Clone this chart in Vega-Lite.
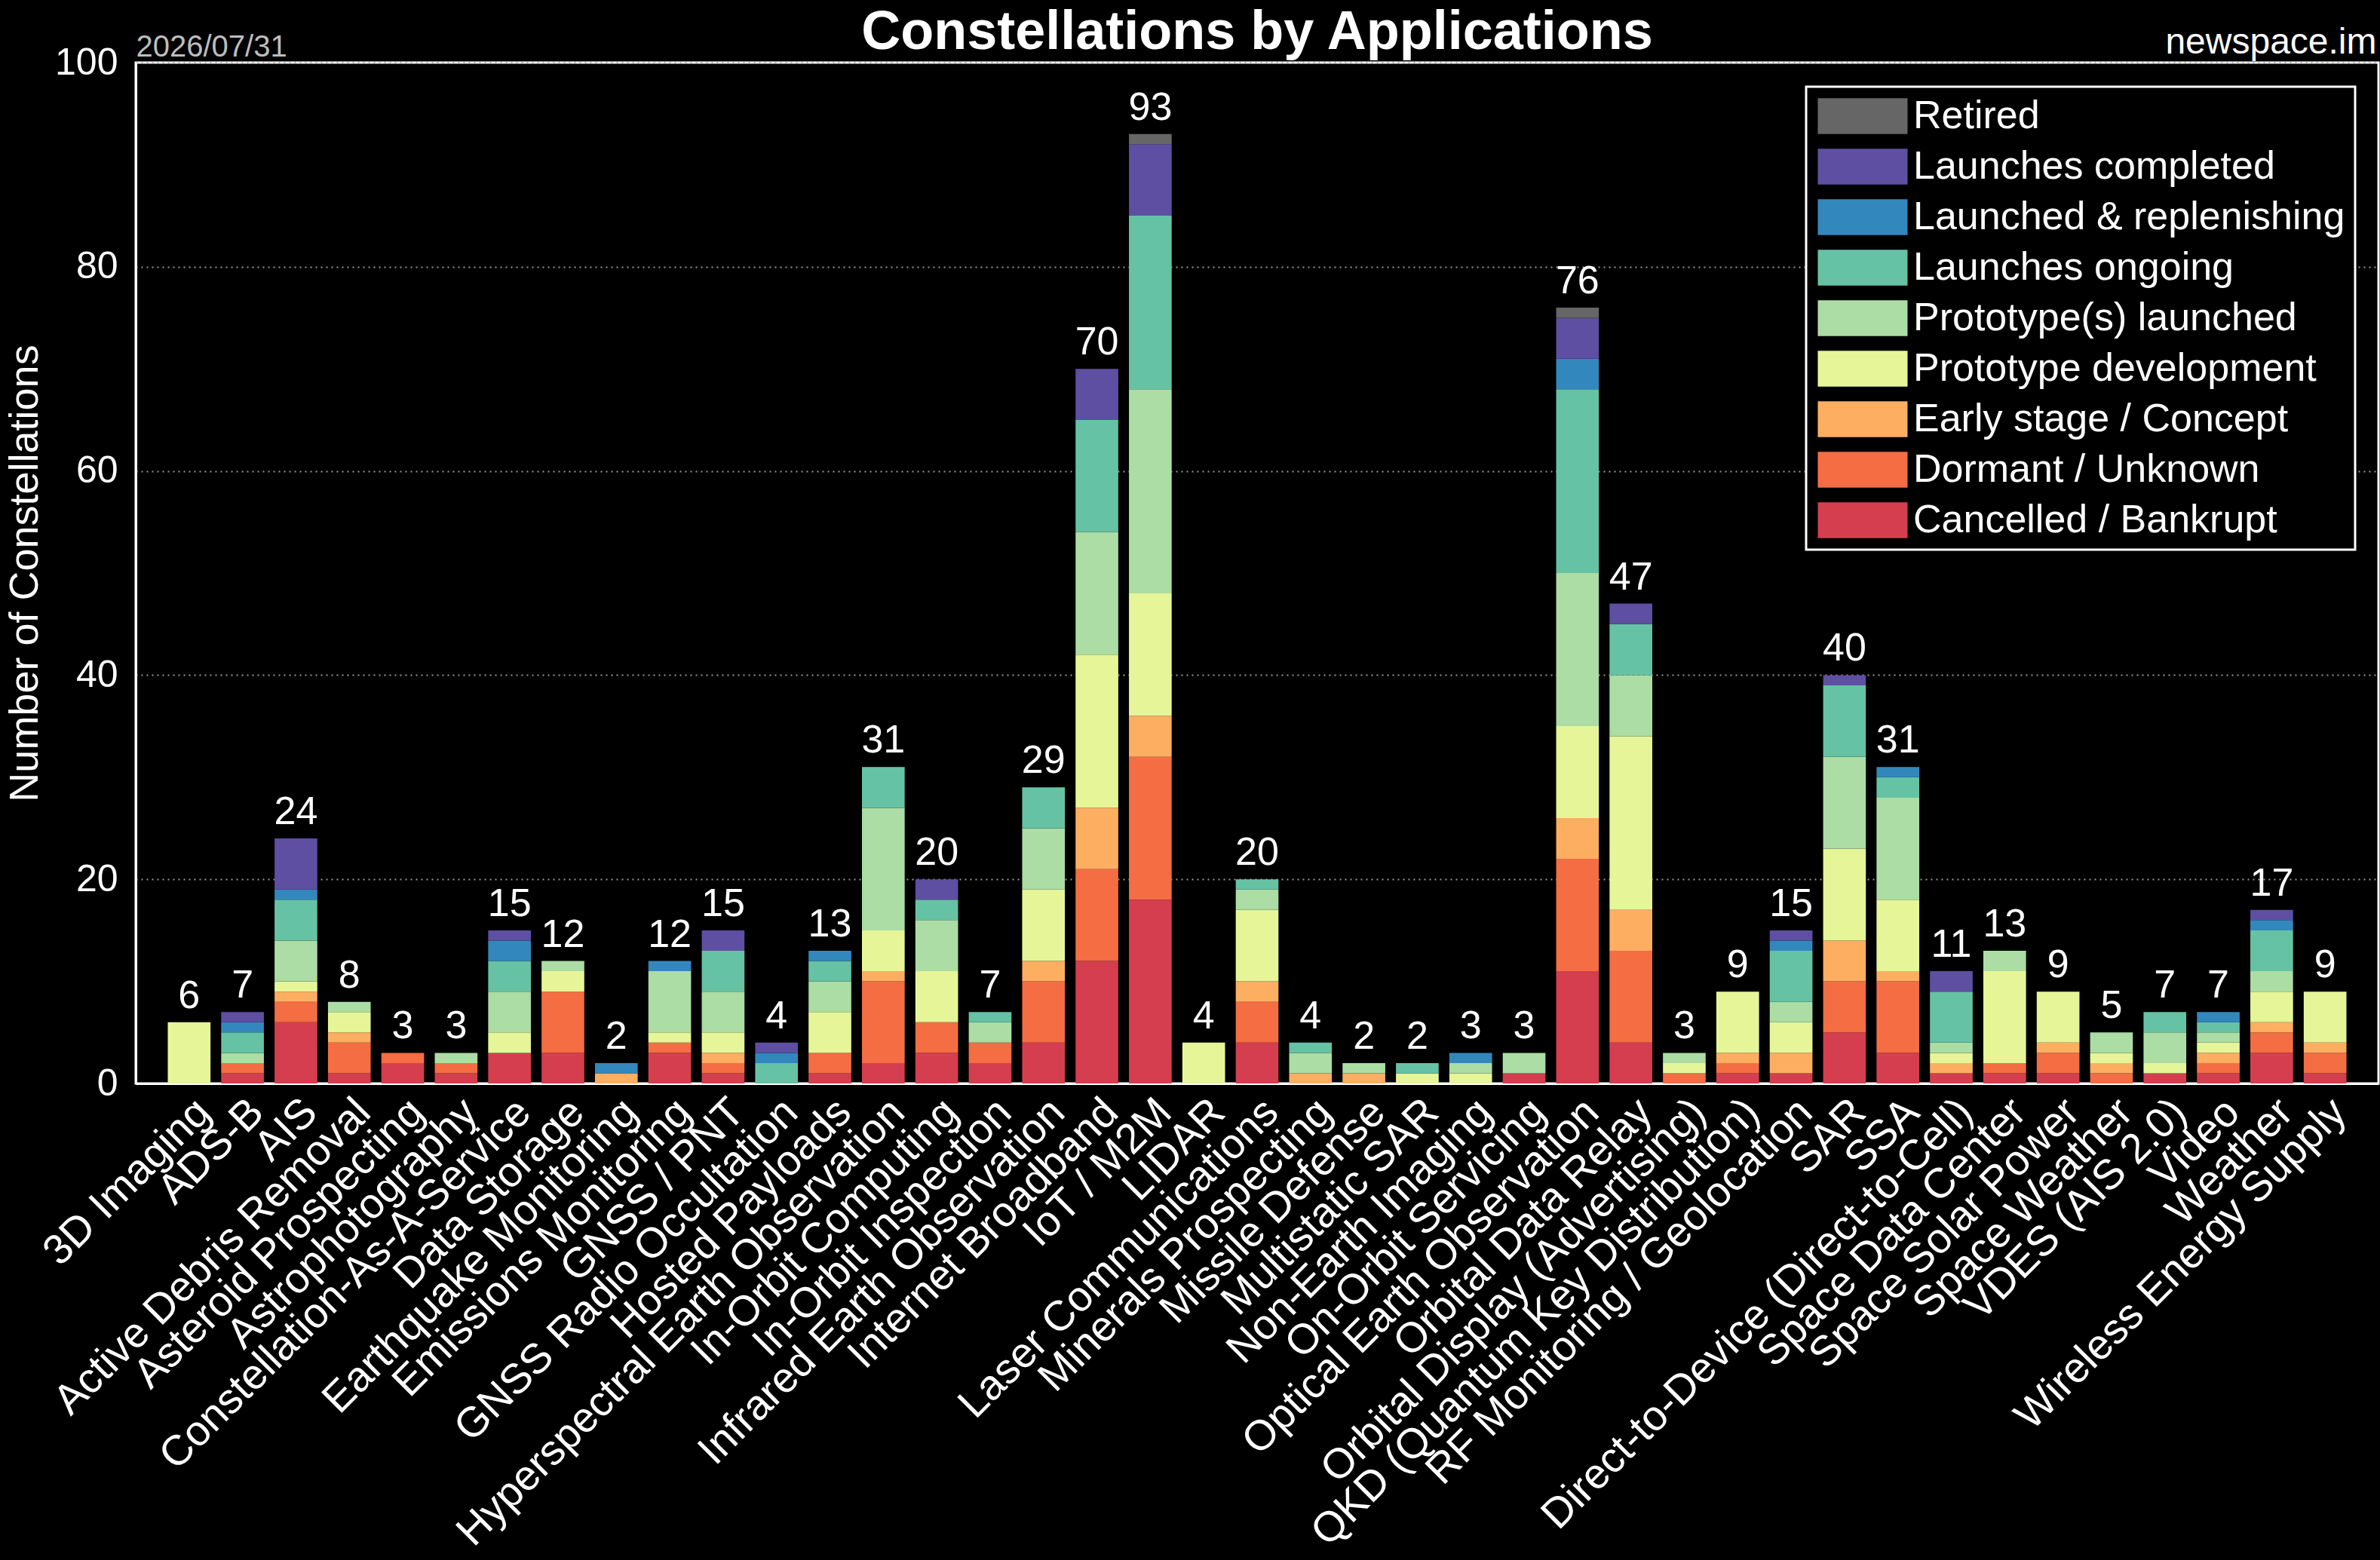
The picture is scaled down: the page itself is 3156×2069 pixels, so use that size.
{
  "$schema": "https://vega.github.io/schema/vega-lite/v6.json",
  "background": "black",
  "autosize": {"type": "none"},
  "padding": {"left": 180, "top": 83, "right": 2, "bottom": 632},
  "width": 2974,
  "height": 1354,
  "config": {
    "font": "Liberation Sans",
    "view": {"stroke": "white", "strokeWidth": 3}
  },
  "title": {
    "text": "Constellations by Applications",
    "fontSize": 72,
    "fontWeight": "bold",
    "color": "white",
    "anchor": "middle",
    "frame": "group",
    "offset": -47
  },
  "datasets": {
    "apps": [
      {"a": "3D Imaging", "PD": 6},
      {"a": "ADS-B", "C": 1, "D": 1, "PL": 1, "LO": 2, "LR": 1, "LC": 1},
      {"a": "AIS", "C": 6, "D": 2, "E": 1, "PD": 1, "PL": 4, "LO": 4, "LR": 1, "LC": 5},
      {"a": "Active Debris Removal", "C": 1, "D": 3, "E": 1, "PD": 2, "PL": 1},
      {"a": "Asteroid Prospecting", "C": 2, "D": 1},
      {"a": "Astrophotography", "C": 1, "D": 1, "PL": 1},
      {"a": "Constellation-As-A-Service", "C": 3, "PD": 2, "PL": 4, "LO": 3, "LR": 2, "LC": 1},
      {"a": "Data Storage", "C": 3, "D": 6, "PD": 2, "PL": 1},
      {"a": "Earthquake Monitoring", "E": 1, "LR": 1},
      {"a": "Emissions Monitoring", "C": 3, "D": 1, "PD": 1, "PL": 6, "LR": 1},
      {"a": "GNSS / PNT", "C": 1, "D": 1, "E": 1, "PD": 2, "PL": 4, "LO": 4, "LC": 2},
      {"a": "GNSS Radio Occultation", "LO": 2, "LR": 1, "LC": 1},
      {"a": "Hosted Payloads", "C": 1, "D": 2, "PD": 4, "PL": 3, "LO": 2, "LR": 1},
      {"a": "Hyperspectral Earth Observation", "C": 2, "D": 8, "E": 1, "PD": 4, "PL": 12, "LO": 4},
      {"a": "In-Orbit Computing", "C": 3, "D": 3, "PD": 5, "PL": 5, "LO": 2, "LC": 2},
      {"a": "In-Orbit Inspection", "C": 2, "D": 2, "PL": 2, "LO": 1},
      {"a": "Infrared Earth Observation", "C": 4, "D": 6, "E": 2, "PD": 7, "PL": 6, "LO": 4},
      {"a": "Internet Broadband", "C": 12, "D": 9, "E": 6, "PD": 15, "PL": 12, "LO": 11, "LC": 5},
      {"a": "IoT / M2M", "C": 18, "D": 14, "E": 4, "PD": 12, "PL": 20, "LO": 17, "LC": 7, "R": 1},
      {"a": "LIDAR", "PD": 4},
      {"a": "Laser Communications", "C": 4, "D": 4, "E": 2, "PD": 7, "PL": 2, "LO": 1},
      {"a": "Minerals Prospecting", "E": 1, "PL": 2, "LO": 1},
      {"a": "Missile Defense", "E": 1, "PL": 1},
      {"a": "Multistatic SAR", "PD": 1, "LO": 1},
      {"a": "Non-Earth Imaging", "PD": 1, "PL": 1, "LR": 1},
      {"a": "On-Orbit Servicing", "C": 1, "PL": 2},
      {"a": "Optical Earth Observation", "C": 11, "D": 11, "E": 4, "PD": 9, "PL": 15, "LO": 18, "LR": 3, "LC": 4, "R": 1},
      {"a": "Orbital Data Relay", "C": 4, "D": 9, "E": 4, "PD": 17, "PL": 6, "LO": 5, "LC": 2},
      {"a": "Orbital Display (Advertising)", "D": 1, "PD": 1, "PL": 1},
      {"a": "QKD (Quantum Key Distribution)", "C": 1, "D": 1, "E": 1, "PD": 6},
      {"a": "RF Monitoring / Geolocation", "C": 1, "E": 2, "PD": 3, "PL": 2, "LO": 5, "LR": 1, "LC": 1},
      {"a": "SAR", "C": 5, "D": 5, "E": 4, "PD": 9, "PL": 9, "LO": 7, "LC": 1},
      {"a": "SSA", "C": 3, "D": 7, "E": 1, "PD": 7, "PL": 10, "LO": 2, "LR": 1},
      {"a": "Direct-to-Device (Direct-to-Cell)", "C": 1, "E": 1, "PD": 1, "PL": 1, "LO": 5, "LC": 2},
      {"a": "Space Data Center", "C": 1, "D": 1, "PD": 9, "PL": 2},
      {"a": "Space Solar Power", "C": 1, "D": 2, "E": 1, "PD": 5},
      {"a": "Space Weather", "D": 1, "E": 1, "PD": 1, "PL": 2},
      {"a": "VDES (AIS 2.0)", "C": 1, "PD": 1, "PL": 3, "LO": 2},
      {"a": "Video", "C": 1, "D": 1, "E": 1, "PD": 1, "PL": 1, "LO": 1, "LR": 1},
      {"a": "Weather", "C": 3, "D": 2, "E": 1, "PD": 3, "PL": 2, "LO": 4, "LR": 1, "LC": 1},
      {"a": "Wireless Energy Supply", "C": 1, "D": 2, "E": 1, "PD": 5}
    ],
    "stages": [
      {"k": "C", "stage": "Cancelled / Bankrupt", "rank": 1},
      {"k": "D", "stage": "Dormant / Unknown", "rank": 2},
      {"k": "E", "stage": "Early stage / Concept", "rank": 3},
      {"k": "PD", "stage": "Prototype development", "rank": 4},
      {"k": "PL", "stage": "Prototype(s) launched", "rank": 5},
      {"k": "LO", "stage": "Launches ongoing", "rank": 6},
      {"k": "LR", "stage": "Launched & replenishing", "rank": 7},
      {"k": "LC", "stage": "Launches completed", "rank": 8},
      {"k": "R", "stage": "Retired", "rank": 9}
    ],
    "notes": [
      {"a": "3D Imaging", "t": "2026/07/31", "side": "left"},
      {"a": "Wireless Energy Supply", "t": "newspace.im", "side": "right"}
    ]
  },
  "layer": [
    {
      "data": {"name": "apps"},
      "transform": [
        {"fold": ["C", "D", "E", "PD", "PL", "LO", "LR", "LC", "R"], "as": ["k", "n"]},
        {"filter": "datum.n > 0"},
        {"lookup": "k", "from": {"data": {"name": "stages"}, "key": "k", "fields": ["stage", "rank"]}}
      ],
      "mark": {"type": "bar"},
      "encoding": {
        "x": {
          "field": "a",
          "type": "nominal",
          "sort": null,
          "scale": {"paddingInner": 0.2, "paddingOuter": 0.6},
          "axis": {
            "title": null,
            "labelAngle": -45,
            "labelAlign": "right",
            "labelBaseline": "top",
            "labelFontSize": 56,
            "labelColor": "white",
            "labelPadding": 10,
            "labelLimit": 1500,
            "labelOverlap": false,
            "labelBound": false,
            "ticks": false,
            "domainColor": "white",
            "domainWidth": 3
          }
        },
        "y": {
          "field": "n",
          "type": "quantitative",
          "stack": "zero",
          "scale": {"domain": [0, 100], "nice": false},
          "axis": {
            "title": "Number of Constellations",
            "titleFontSize": 54,
            "titleFontWeight": "normal",
            "titleColor": "white",
            "titlePadding": 12,
            "values": [0, 20, 40, 60, 80, 100],
            "labelFontSize": 50,
            "labelColor": "white",
            "labelPadding": 24,
            "ticks": false,
            "grid": true,
            "gridColor": "#9a9a9a",
            "gridDash": [2, 5],
            "gridWidth": 2,
            "domainColor": "white",
            "domainWidth": 3
          }
        },
        "color": {
          "field": "stage",
          "type": "nominal",
          "scale": {
            "domain": ["Retired", "Launches completed", "Launched & replenishing", "Launches ongoing", "Prototype(s) launched", "Prototype development", "Early stage / Concept", "Dormant / Unknown", "Cancelled / Bankrupt"],
            "range": ["#666666", "#5e4fa2", "#3288bd", "#66c2a5", "#abdda4", "#e6f598", "#fdae61", "#f46d43", "#d53e4f"]
          },
          "legend": {
            "title": null,
            "orient": "none",
            "legendX": 2215,
            "legendY": 32,
            "labelFontSize": 52,
            "labelColor": "white",
            "labelLimit": 1200,
            "labelOffset": 41,
            "symbolType": "M-2.5,-1H2.5V1H-2.5Z",
            "symbolSize": 2266,
            "symbolOffset": 36,
            "symbolStrokeWidth": 0,
            "symbolOpacity": 1,
            "rowPadding": 15,
            "padding": 13,
            "strokeColor": "white",
            "fillColor": "black",
            "encode": {"legend": {"update": {"strokeWidth": {"value": 3}}}}
          }
        },
        "order": {"field": "rank", "type": "quantitative", "sort": "ascending"}
      }
    },
    {
      "data": {"name": "apps"},
      "transform": [
        {"fold": ["C", "D", "E", "PD", "PL", "LO", "LR", "LC", "R"], "as": ["k", "n"]},
        {"aggregate": [{"op": "sum", "field": "n", "as": "total"}], "groupby": ["a"]}
      ],
      "mark": {"type": "text", "baseline": "bottom", "dy": -8, "fontSize": 52, "color": "white"},
      "encoding": {
        "x": {"field": "a", "type": "nominal", "sort": null},
        "y": {"field": "total", "type": "quantitative"},
        "text": {"field": "total", "type": "quantitative"}
      }
    },
    {
      "data": {"name": "notes"},
      "transform": [{"filter": "datum.side == 'left'"}],
      "mark": {"type": "text", "align": "left", "baseline": "alphabetic", "dx": -42, "dy": -8, "fontSize": 40, "color": "#bdbdbd"},
      "encoding": {
        "x": {"field": "a", "type": "nominal", "sort": null, "bandPosition": 0},
        "y": {"datum": 100},
        "text": {"field": "t"}
      }
    },
    {
      "data": {"name": "notes"},
      "transform": [{"filter": "datum.side == 'right'"}],
      "mark": {"type": "text", "align": "right", "baseline": "alphabetic", "dx": 40, "dy": -12, "fontSize": 48, "color": "white"},
      "encoding": {
        "x": {"field": "a", "type": "nominal", "sort": null, "bandPosition": 1},
        "y": {"datum": 100},
        "text": {"field": "t"}
      }
    }
  ]
}
